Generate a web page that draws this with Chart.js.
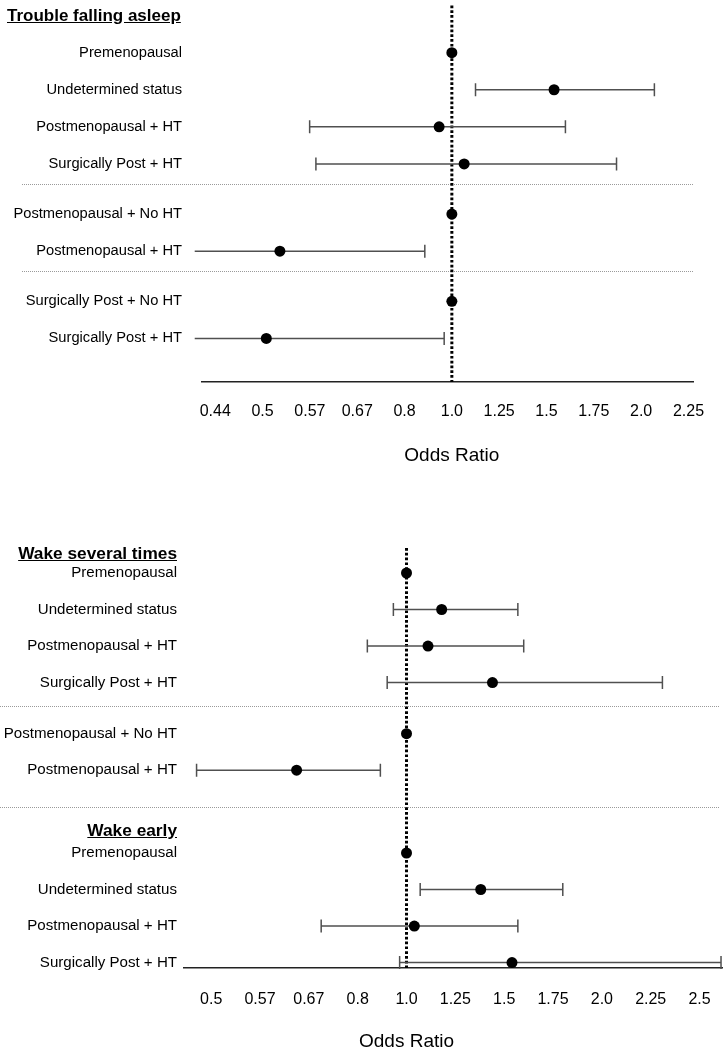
<!DOCTYPE html>
<html>
<head>
<meta charset="utf-8">
<script src="https://cdn.jsdelivr.net/npm/chart.js@4.4.1/dist/chart.umd.min.js"></script>
<style>
  body { margin: 0; background: #fff; width: 728px; height: 1050px; overflow: hidden; position: relative; font-family: "Liberation Sans", Arial, sans-serif; }
  canvas { position: absolute; left: 0; }
  .head { position: absolute; z-index: 2; font-weight: bold; font-size: 17px; line-height: 20px; text-decoration: underline; color: #000; white-space: nowrap; }
</style>
</head>
<body>
<canvas id="sleepChart" width="728" height="471" style="top:0"></canvas>
<canvas id="wakeChart" width="728" height="550" style="top:500px"></canvas>
<div class="head" style="left:7px;top:6px">Trouble falling asleep</div>
<div class="head" style="left:0;width:177px;text-align:right;top:543px;font-size:17.3px">Wake several times</div>
<div class="head" style="left:0;width:177px;text-align:right;top:820px;font-size:17.3px">Wake early</div>
<script>
const FONT = '"Liberation Sans", Arial, sans-serif';

// Trouble falling asleep
const sleepLabels = ['Premenopausal', 'Undetermined status', 'Postmenopausal + HT', 'Surgically Post + HT',
                     'Postmenopausal + No HT', 'Postmenopausal + HT',
                     'Surgically Post + No HT', 'Surgically Post + HT'];
const sleepGroups = [0, 0, 0, 0, 1, 1, 2, 2];
const sleepOR   = [1.0, 1.54, 0.937, 1.065, 1.0, 0.524, 1.0, 0.505];
const sleepLow  = [null, 1.125, 0.571, 0.582, null, 0.424, null, 0.424];
const sleepHigh = [null, 2.07, 1.60, 1.87, null, 0.875, null, 0.961];
const sleepTicks = ['0.44', '0.5', '0.57', '0.67', '0.8', '1.0', '1.25', '1.5', '1.75', '2.0', '2.25'];

// Wake several times (groups 0-1) / Wake early (group 2)
const wakeLabels = ['Premenopausal', 'Undetermined status', 'Postmenopausal + HT', 'Surgically Post + HT',
                    'Postmenopausal + No HT', 'Postmenopausal + HT',
                    'Premenopausal', 'Undetermined status', 'Postmenopausal + HT', 'Surgically Post + HT'];
const wakeGroups = [0, 0, 0, 0, 1, 1, 2, 2, 2, 2];
const wakeOR   = [1.0, 1.18, 1.11, 1.44, 1.0, 0.64, 1.0, 1.38, 1.04, 1.54];
const wakeLow  = [null, 0.937, 0.833, 0.91, null, 0.482, null, 1.07, 0.696, 0.966];
const wakeHigh = [null, 1.57, 1.60, 2.31, null, 0.882, null, 1.80, 1.57, 2.61];
const wakeTicks = ['0.5', '0.57', '0.67', '0.8', '1.0', '1.25', '1.5', '1.75', '2.0', '2.25', '2.5'];

// symmetric odds-ratio axis: 2.0 and 0.5 sit at the same distance from 1.0
const toT = v => v >= 1 ? v - 1 : 1 - 1 / v;
// tick labels below 1 are the rounded reciprocals of 1.25, 1.5, 1.75 ...
const tickT = l => {
  const v = parseFloat(l);
  return v >= 1 ? v - 1 : 1 - Math.round(4 / v) / 4;
};

// row slots: one unit per row, plus a gap between groups (and room for a sub-heading)
function rowSlots(groups, gap, extra) {
  return groups.map((g, i) => i + g * gap + (extra[g] || 0));
}
function sepSlots(groups, slots, frac) {
  const out = [];
  for (let i = 1; i < groups.length; i++) {
    if (groups[i] !== groups[i - 1]) out.push(slots[i - 1] + frac * (slots[i] - slots[i - 1]));
  }
  return out;
}

const forestPlugin = {
  id: 'forest',
  beforeDatasetsDraw(chart, args, opts) {
    const {ctx, chartArea: a, scales: {x, y}} = chart;
    const x0 = x.getPixelForValue(0);
    ctx.save();
    // group separators
    ctx.strokeStyle = '#9a9a9a';
    ctx.lineWidth = 1;
    ctx.setLineDash([1, 1]);
    opts.separators.forEach(s => {
      const py = Math.round(y.getPixelForValue(s)) + 0.5;
      ctx.beginPath();
      ctx.moveTo(opts.sepFrom, py);
      ctx.lineTo(opts.sepTo, py);
      ctx.stroke();
    });
    // reference line at OR = 1
    ctx.setLineDash([2.7, 2.1]);
    ctx.lineWidth = 3;
    ctx.strokeStyle = '#000';
    ctx.beginPath();
    ctx.moveTo(x0, a.top);
    ctx.lineTo(x0, a.bottom);
    ctx.stroke();
    // confidence intervals
    ctx.setLineDash([]);
    ctx.strokeStyle = '#505050';
    ctx.lineWidth = 1.5;
    opts.low.forEach((lo, i) => {
      if (lo == null) return;
      const py = y.getPixelForValue(opts.slots[i]);
      const tl = toT(lo), th = toT(opts.high[i]);
      const p1 = x.getPixelForValue(tl), p2 = x.getPixelForValue(th);
      ctx.beginPath();
      ctx.moveTo(p1, py);
      ctx.lineTo(p2, py);
      [[tl, p1], [th, p2]].forEach(([t, px]) => {
        if (t >= x.min && t <= x.max) {   // no cap when the interval runs off the axis
          ctx.moveTo(px, py - 6.5);
          ctx.lineTo(px, py + 6.5);
        }
      });
      ctx.stroke();
    });
    // axis title, centred on OR = 1
    ctx.fillStyle = '#000';
    ctx.font = '19px ' + FONT;
    ctx.textAlign = 'center';
    ctx.textBaseline = 'middle';
    ctx.fillText(opts.title, x0, a.bottom + opts.titleGap);
    ctx.restore();
  }
};

function forest(id, cfg) {
  const slots = rowSlots(cfg.groups, cfg.gap, cfg.extra || {});
  new Chart(document.getElementById(id), {
    type: 'scatter',
    data: {
      datasets: [{
        data: cfg.or.map((v, i) => ({x: toT(v), y: slots[i]})),
        pointRadius: 5.5,
        pointHoverRadius: 5.5,
        pointBackgroundColor: '#000',
        pointBorderWidth: 0
      }]
    },
    options: {
      responsive: false,
      animation: false,
      events: [],
      layout: {padding: cfg.padding},
      plugins: {
        legend: {display: false},
        tooltip: {enabled: false},
        forest: {
          slots: slots,
          low: cfg.low,
          high: cfg.high,
          separators: sepSlots(cfg.groups, slots, cfg.sepFrac),
          sepFrom: cfg.sepFrom,
          sepTo: cfg.sepTo,
          title: 'Odds Ratio',
          titleGap: cfg.titleGap
        }
      },
      scales: {
        x: {
          type: 'linear',
          min: cfg.xMin,
          max: cfg.xMax,
          grid: {display: false, drawTicks: false},
          border: {color: '#222', width: 1.5},
          afterBuildTicks: s => { s.ticks = cfg.ticks.map(l => ({value: tickT(l)})); },
          afterFit: s => { s.height = cfg.xHeight; s.paddingLeft = 0; s.paddingRight = 0; },
          ticks: {
            autoSkip: false,
            maxRotation: 0,
            padding: cfg.xPad,
            color: '#000',
            font: {family: FONT, size: 16},
            callback: (v, i) => cfg.ticks[i]
          }
        },
        y: {
          type: 'linear',
          reverse: true,
          min: cfg.yMin,
          max: cfg.yMax,
          grid: {display: false, drawTicks: false},
          border: {display: false},
          afterBuildTicks: s => { s.ticks = slots.map(v => ({value: v})); },
          afterFit: s => { s.width = cfg.yWidth; s.paddingTop = 0; s.paddingBottom = 0; },
          ticks: {
            autoSkip: false,
            padding: cfg.yPad,
            color: '#000',
            font: {family: FONT, size: cfg.labelSize},
            callback: (v, i) => cfg.labels[i]
          }
        }
      }
    },
    plugins: [forestPlugin]
  });
}

forest('sleepChart', {
  labels: sleepLabels, groups: sleepGroups, or: sleepOR, low: sleepLow, high: sleepHigh, ticks: sleepTicks,
  gap: 0.35,
  xMin: -1.32, xMax: 1.274,
  yMin: -1.27, yMax: 8.874,
  padding: {top: 4, right: 35, bottom: 0, left: 0},
  yWidth: 202, yPad: 20, labelSize: 14.7,
  xHeight: 89, xPad: 20.4,
  sepFrom: 22, sepTo: 693, sepFrac: 0.4,
  titleGap: 74
});

forest('wakeChart', {
  labels: wakeLabels, groups: wakeGroups, or: wakeOR, low: wakeLow, high: wakeHigh, ticks: wakeTicks,
  gap: 0.4, extra: {2: 0.87},
  xMin: -1.139, xMax: 1.615,
  yMin: -0.685, yMax: 10.82,
  padding: {top: 48, right: 6, bottom: 0, left: 0},
  yWidth: 184, yPad: 7, labelSize: 15.1,
  xHeight: 82, xPad: 22.4,
  sepFrom: 0, sepTo: 720, sepFrac: 0.45,
  titleGap: 74
});
</script>
</body>
</html>
